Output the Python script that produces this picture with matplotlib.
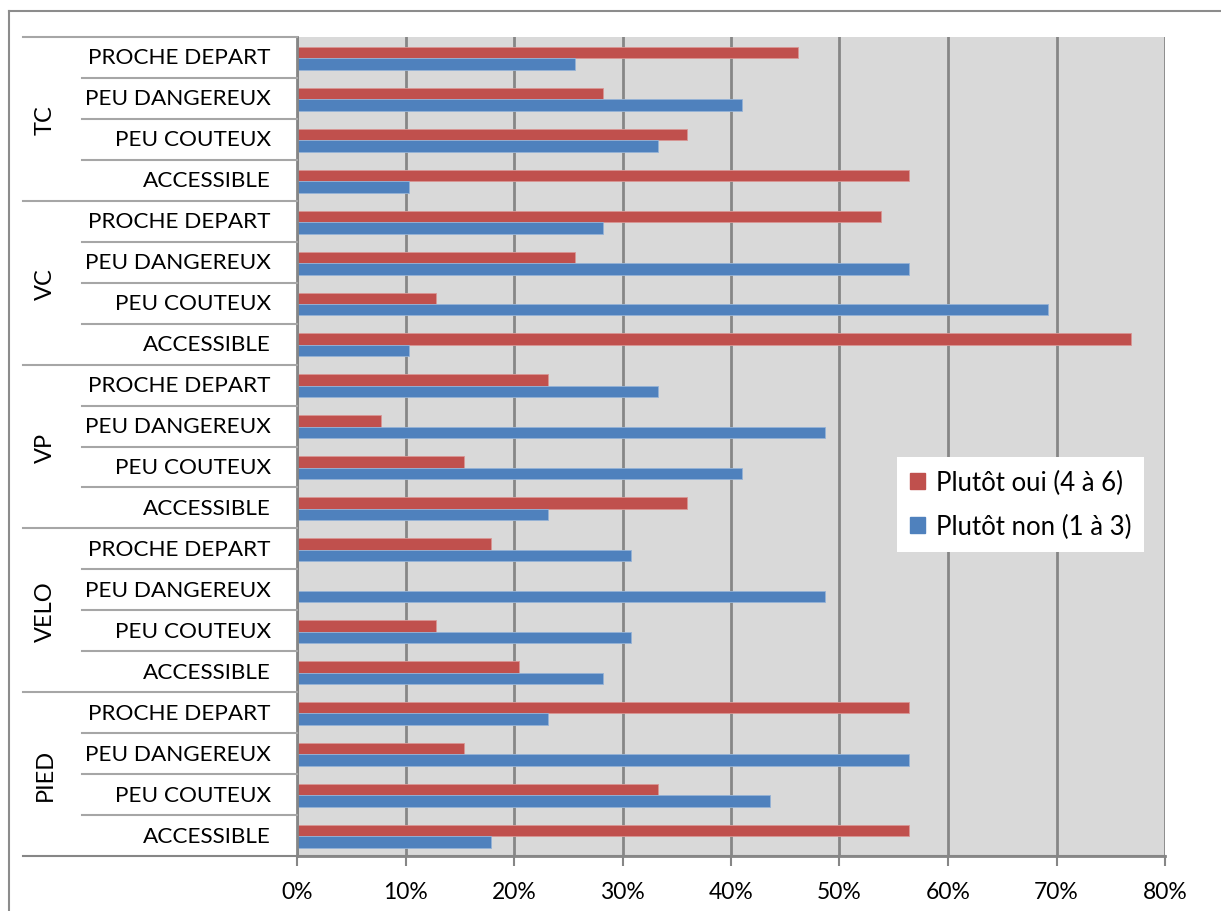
import matplotlib
matplotlib.use("Agg")
import matplotlib.pyplot as plt
from matplotlib.lines import Line2D
from matplotlib.patches import Patch
import numpy as np

plt.rcParams['font.family'] = ['Lato', 'DejaVu Sans']

groups = ["TC", "VC", "VP", "VELO", "PIED"]
criteria = ["PROCHE DEPART", "PEU DANGEREUX", "PEU COUTEUX", "ACCESSIBLE"]
series_names = ["Plutôt oui (4 à 6)", "Plutôt non (1 à 3)"]
# values in %, listed group by group (top to bottom), criteria top to bottom
oui = [46.2, 28.2, 35.9, 56.4,
       53.8, 25.6, 12.8, 76.9,
       23.1, 7.7, 15.4, 35.9,
       17.9, 0.0, 12.8, 20.5,
       56.4, 15.4, 33.3, 56.4]
non = [25.6, 41.0, 33.3, 10.3,
       28.2, 56.4, 69.2, 10.3,
       33.3, 48.7, 41.0, 23.1,
       30.8, 48.7, 30.8, 28.2,
       23.1, 56.4, 43.6, 17.9]
xticks = [0, 10, 20, 30, 40, 50, 60, 70, 80]

RED = "#C0504D"
BLUE = "#4F81BD"
GRID = "#868686"

W, H = 1221, 912
fig = plt.figure(figsize=(W / 100, H / 100), dpi=100)

def fx(px):
    return px / W

def fy(py):
    return 1 - py / H

left, right, top, bottom = 297, 1165, 38, 857
ax = fig.add_axes([fx(left), fy(bottom), fx(right) - fx(left), fy(top) - fy(bottom)])
ax.set_facecolor("#D9D9D9")

n = len(groups) * len(criteria)
ypos = np.arange(n)[::-1]  # top row has highest y
bh = 0.28
ax.barh(ypos + bh / 2 - 0.02, oui, height=bh, color=RED, edgecolor="#D99694", linewidth=0.6, zorder=3)
ax.barh(ypos - bh / 2 - 0.02, non, height=bh, color=BLUE, edgecolor="#95B3D7", linewidth=0.6, zorder=3)

ax.set_xlim(0, 80)
ax.set_ylim(-0.5, n - 0.5)
ax.set_xticks(xticks)
ax.set_xticklabels([f"{t}%" for t in xticks], fontsize=16.5)
ax.set_yticks([])
ax.xaxis.grid(True, color=GRID, linewidth=2, zorder=1)
ax.tick_params(axis='x', length=7, width=1.5, color=GRID, pad=11, direction='out')
for s in ["top", "right"]:
    ax.spines[s].set_visible(False)
for s in ["left", "bottom"]:
    ax.spines[s].set_color(GRID)
    ax.spines[s].set_linewidth(2)
    ax.spines[s].set_zorder(4)

# category labels and separators
row_h = (bottom - top) / n
for i in range(n):
    cy = top + (i + 0.5) * row_h
    fig.text(fx(271), fy(cy), criteria[i % 4], ha="right", va="center", fontsize=16.2, color="black")
for i in range(n + 1):
    yy = top + i * row_h
    if i % 4 == 0:
        x0 = 23
    else:
        x0 = 82
    xe = right if i == n else left
    fig.add_artist(Line2D([fx(x0), fx(xe)], [fy(yy), fy(yy)], color="#A6A6A6" if i != n else GRID,
                          linewidth=1.5, transform=fig.transFigure))
for g, name in enumerate(groups):
    cy = top + (g * 4 + 2) * row_h
    fig.text(fx(45), fy(cy), name, ha="center", va="center", rotation=90, fontsize=17)

# outer chart border (left and top)
fig.add_artist(Line2D([fx(9), fx(9)], [fy(12), 0], color="#8C8C8C", linewidth=1.5, transform=fig.transFigure))
fig.add_artist(Line2D([fx(9), 1], [fy(12), fy(12)], color="#8C8C8C", linewidth=1.5, transform=fig.transFigure))

handles = [Patch(facecolor=RED, edgecolor=RED), Patch(facecolor=BLUE, edgecolor=BLUE)]
leg = fig.legend(handles, series_names, loc="upper left",
                 bbox_to_anchor=(fx(897), fy(458)), frameon=True, fancybox=False,
                 fontsize=18.5, handlelength=0.6, handleheight=0.6, handletextpad=0.4,
                 labelspacing=0.75, borderpad=0.5, borderaxespad=0, edgecolor="white", framealpha=1)
leg.get_frame().set_linewidth(0)

fig.savefig("out.png", dpi=100, facecolor="white")
